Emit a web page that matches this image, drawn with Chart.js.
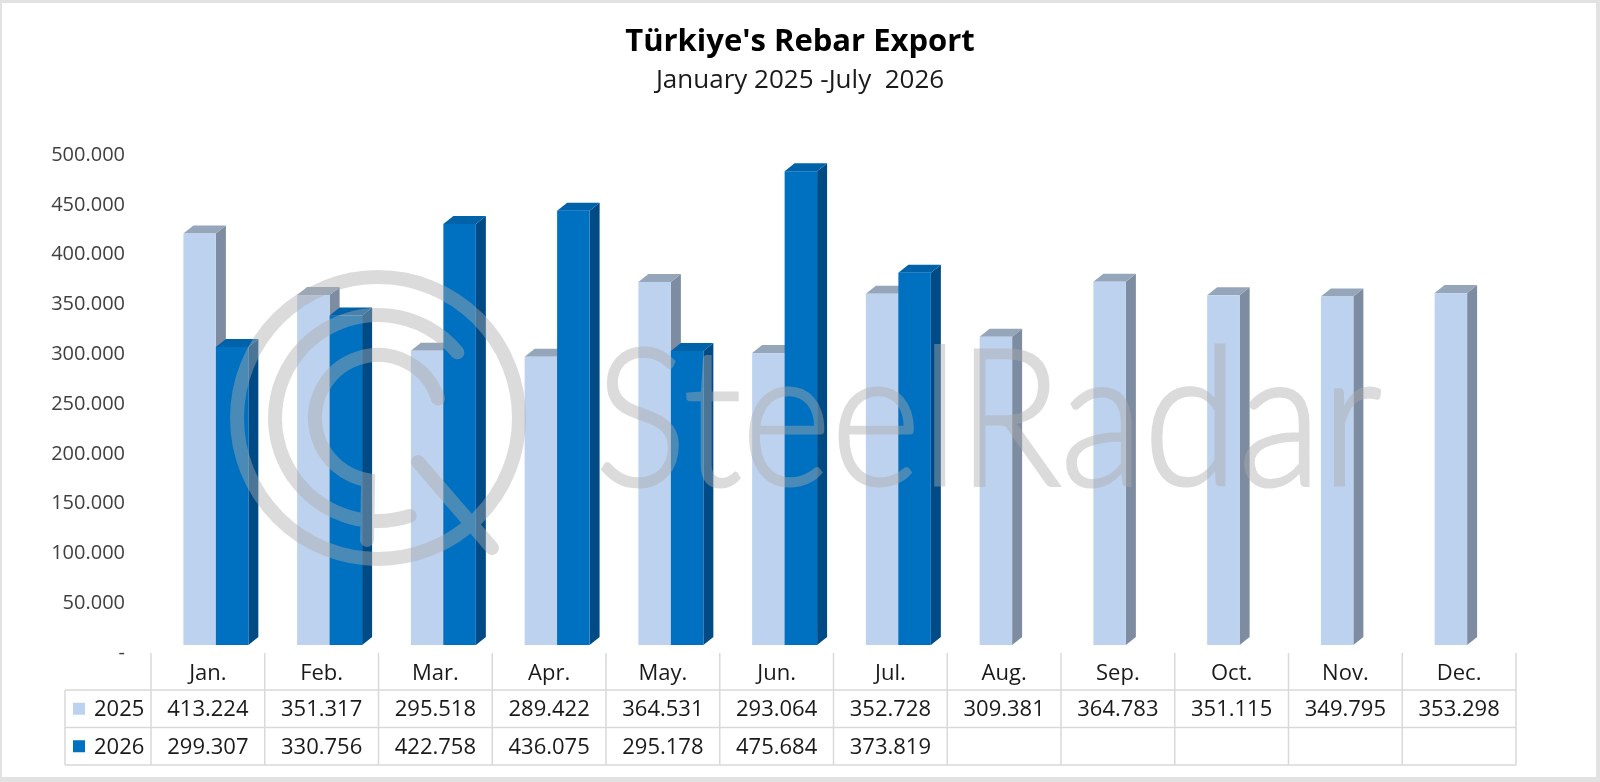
<!DOCTYPE html>
<html lang="en">
<head>
    <meta charset="UTF-8">
    <title>Türkiye's Rebar Export</title>
    <script src="https://cdn.jsdelivr.net/npm/chart.js"></script>
    <style>
        body { margin: 0; background: #fff; }
        canvas { display: block; }
    </style>
</head>
<body>
    <canvas id="rebarChart" width="1600" height="782"></canvas>
    <script>
        // data
        const months = ['Jan.', 'Feb.', 'Mar.', 'Apr.', 'May.', 'Jun.', 'Jul.', 'Aug.', 'Sep.', 'Oct.', 'Nov.', 'Dec.'];
        const seriesNames = ['2025', '2026'];
        const exports2025 = [413224, 351317, 295518, 289422, 364531, 293064, 352728, 309381, 364783, 351115, 349795, 353298];
        const exports2026 = [299307, 330756, 422758, 436075, 295178, 475684, 373819, null, null, null, null, null];
        const titleText = "Türkiye's Rebar Export";
        const subtitleText = 'January 2025 -July  2026';

        const FONT = '"Open Sans", "Noto Sans", sans-serif';
        const colors = [
            { front: '#BDD2EE', side: '#7D8CA1', top: '#95A6BB' },
            { front: '#0070C0', side: '#004B86', top: '#0062A8' }
        ];
        const SHIFT_X = 8, SHIFT_Y = -8;   // front face offset
        const DEPTH_X = 10, DEPTH_Y = -8;  // 3d depth

        // 413224 -> "413.224"
        function fmt(v) {
            if (v === null || v === undefined) return '';
            return String(Math.round(v)).replace(/\B(?=(\d{3})+(?!\d))/g, '.');
        }

        const bars3d = {
            id: 'bars3d',
            beforeDatasetsDraw(chart) {
                const ctx = chart.ctx;
                const metas = chart.data.datasets.map((d, i) => chart.getDatasetMeta(i));
                for (let i = 0; i < months.length; i++) {
                    metas.forEach((meta, di) => {
                        const raw = chart.data.datasets[di].data[i];
                        if (raw === null) return;
                        const bar = meta.data[i];
                        const c = colors[di];
                        const x0 = bar.x - bar.width / 2 + SHIFT_X;
                        const x1 = bar.x + bar.width / 2 + SHIFT_X;
                        const yt = bar.y + SHIFT_Y;
                        const yb = bar.base + SHIFT_Y;
                        ctx.save();
                        // side
                        ctx.fillStyle = c.side;
                        ctx.beginPath();
                        ctx.moveTo(x1, yt);
                        ctx.lineTo(x1 + DEPTH_X, yt + DEPTH_Y);
                        ctx.lineTo(x1 + DEPTH_X, yb + DEPTH_Y);
                        ctx.lineTo(x1, yb);
                        ctx.closePath();
                        ctx.fill();
                        // top
                        ctx.fillStyle = c.top;
                        ctx.beginPath();
                        ctx.moveTo(x0, yt);
                        ctx.lineTo(x0 + DEPTH_X, yt + DEPTH_Y);
                        ctx.lineTo(x1 + DEPTH_X, yt + DEPTH_Y);
                        ctx.lineTo(x1, yt);
                        ctx.closePath();
                        ctx.fill();
                        // front
                        ctx.fillStyle = c.front;
                        ctx.fillRect(x0, yt, x1 - x0, yb - yt);
                        ctx.restore();
                    });
                }
                return false;
            }
        };

        // watermark drawn solid on a separate canvas, then blended in once
        function makeWatermark(w, h) {
            const c = document.createElement('canvas');
            c.width = w; c.height = h;
            const g = c.getContext('2d');
            g.fillStyle = 'rgb(172,172,172)';
            g.strokeStyle = 'rgb(172,172,172)';
            g.font = '300 192px Lato, ' + FONT;
            g.textBaseline = 'alphabetic';
            const tw = g.measureText('SteelRadar').width;
            g.save();
            g.translate(595, 485);
            g.scale(787 / tw, 1);
            g.lineWidth = 3;
            g.fillText('SteelRadar', 0, 0);
            g.strokeText('SteelRadar', 0, 0);
            g.restore();

            const cx = 378, cy = 418;
            g.lineWidth = 14;
            g.lineCap = 'round';
            g.beginPath();
            g.arc(cx, cy, 141, 0, Math.PI * 2);
            g.moveTo(cx + 103 * Math.cos(-0.22 * Math.PI), cy + 103 * Math.sin(-0.22 * Math.PI));
            g.arc(cx, cy, 103, -0.22 * Math.PI, 0.4 * Math.PI, true);
            g.moveTo(cx + 63 * Math.cos(-0.1 * Math.PI), cy + 63 * Math.sin(-0.1 * Math.PI));
            g.arc(cx, cy, 63, -0.1 * Math.PI, 0.55 * Math.PI, true);
            g.lineTo(cx - 11, cy + 122);
            g.moveTo(cx + 40, cy + 44);
            g.lineTo(cx + 114, cy + 130);
            g.stroke();
            return c;
        }

        const decorations = {
            id: 'decorations',
            beforeDraw(chart) {
                const ctx = chart.ctx;
                ctx.save();
                ctx.fillStyle = '#fff';
                ctx.fillRect(0, 0, chart.width, chart.height);
                // frame
                ctx.fillStyle = '#E2E2E2';
                ctx.fillRect(0, 0, chart.width, 3);
                ctx.fillRect(0, 0, 2, chart.height);
                ctx.fillRect(chart.width - 4, 0, 4, chart.height);
                ctx.fillRect(0, chart.height - 5, chart.width, 5);
                // titles
                ctx.fillStyle = '#000';
                ctx.textAlign = 'center';
                ctx.textBaseline = 'middle';
                ctx.font = 'bold 31px ' + FONT;
                ctx.fillText(titleText, 800, 42);
                ctx.fillStyle = '#1a1a1a';
                ctx.font = '26px ' + FONT;
                ctx.fillText(subtitleText, 800, 81);
                ctx.restore();
            },
            afterDraw(chart) {
                const ctx = chart.ctx;
                const xs = chart.scales.x;
                const step = (xs.right - xs.left) / months.length;
                const L = xs.left, R = xs.right;
                const yHead = 653, y1 = 690, y2 = 727.5, y3 = 765;
                const legendLeft = 65;

                ctx.save();
                ctx.globalAlpha = 0.43;
                ctx.drawImage(makeWatermark(chart.width, chart.height), 0, 0);
                ctx.restore();

                // data table
                ctx.save();
                ctx.strokeStyle = '#D9D9D9';
                ctx.lineWidth = 1.5;
                ctx.beginPath();
                for (let i = 0; i <= months.length; i++) {
                    const x = L + i * step;
                    ctx.moveTo(x, yHead);
                    ctx.lineTo(x, y3);
                }
                [y1, y2, y3].forEach(y => {
                    ctx.moveTo(legendLeft, y);
                    ctx.lineTo(R, y);
                });
                ctx.moveTo(legendLeft, y1);
                ctx.lineTo(legendLeft, y3);
                ctx.stroke();

                ctx.fillStyle = '#1a1a1a';
                ctx.font = '22px ' + FONT;
                ctx.textAlign = 'center';
                ctx.textBaseline = 'middle';
                const rows = [exports2025, exports2026];
                const rowY = [(y1 + y2) / 2 + 1, (y2 + y3) / 2 + 1];
                months.forEach((m, i) => {
                    const x = xs.getPixelForValue(i);
                    ctx.fillText(m, x, 674);
                    rows.forEach((r, ri) => ctx.fillText(fmt(r[i]), x, rowY[ri]));
                });
                // legend keys
                ctx.textAlign = 'left';
                seriesNames.forEach((name, ri) => {
                    ctx.fillStyle = colors[ri].front;
                    ctx.fillRect(73, rowY[ri] - 7, 12, 12);
                    ctx.fillStyle = '#1a1a1a';
                    ctx.fillText(name, 94, rowY[ri]);
                });
                ctx.restore();
            }
        };

        new Chart(document.getElementById('rebarChart').getContext('2d'), {
            type: 'bar',
            data: {
                labels: months,
                datasets: [
                    { label: seriesNames[0], data: exports2025, backgroundColor: colors[0].front },
                    { label: seriesNames[1], data: exports2026, backgroundColor: colors[1].front }
                ]
            },
            options: {
                responsive: false,
                animation: false,
                categoryPercentage: 0.571,
                barPercentage: 1.0,
                layout: { padding: { top: 155, right: 84, bottom: 129, left: 0 } },
                plugins: {
                    legend: { display: false },
                    title: { display: false },
                    tooltip: { enabled: false }
                },
                scales: {
                    x: { display: false },
                    y: {
                        min: 0,
                        max: 500000,
                        afterFit(scale) { scale.width = 151; },
                        grid: { display: false, drawTicks: false },
                        border: { display: false },
                        ticks: {
                            stepSize: 50000,
                            padding: 26,
                            color: '#404040',
                            font: { family: FONT, size: 20 },
                            callback: v => v === 0 ? '-' : fmt(v)
                        }
                    }
                }
            },
            plugins: [decorations, bars3d]
        });
    </script>
</body>
</html>
